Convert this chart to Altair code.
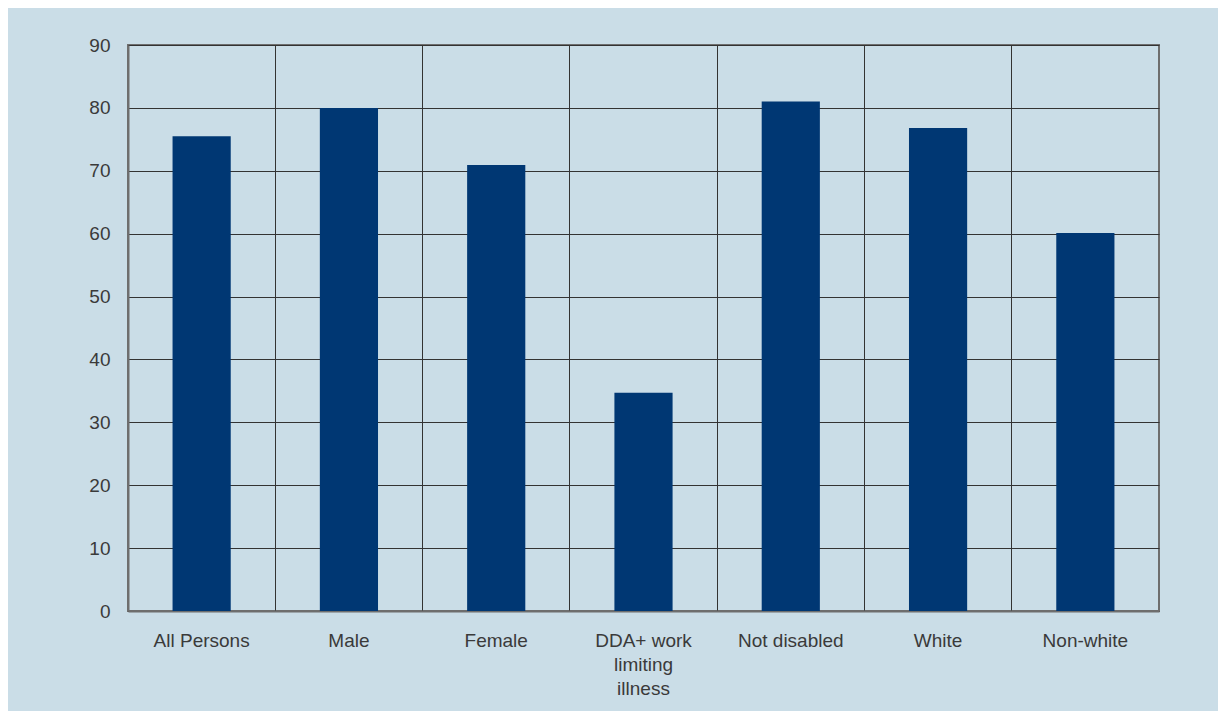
import altair as alt
import pandas as pd

categories = ["All Persons", "Male", "Female", "DDA+ work limiting illness",
              "Not disabled", "White", "Non-white"]
values = [75.5, 80.0, 70.9, 34.7, 81.0, 76.8, 60.1]

df = pd.DataFrame({"category": categories, "value": values})

label_expr = ("datum.value == 'DDA+ work limiting illness' ? "
              "['DDA+ work', 'limiting', 'illness'] : datum.value")

chart = alt.Chart(df).mark_bar(color="#003773", width={"band": 0.395}).encode(
    x=alt.X("category:N", sort=categories, title=None,
            scale=alt.Scale(paddingInner=0, paddingOuter=0),
            axis=alt.Axis(labelAngle=0, labelExpr=label_expr, ticks=False,
                          grid=True, gridColor="#333333", gridWidth=1,
                          bandPosition=0, labelPadding=20,
                          labelFontSize=19, labelColor="#3a3a3a",
                          labelFont="Liberation Sans", labelLineHeight=24,
                          domainColor="#6e6e6e", domainWidth=2)),
    y=alt.Y("value:Q", title=None,
            scale=alt.Scale(domain=[0, 90], nice=False),
            axis=alt.Axis(values=list(range(0, 91, 10)), ticks=False,
                          grid=True, gridColor="#333333", gridWidth=1,
                          labelPadding=18, labelFontSize=19,
                          labelColor="#3a3a3a", labelFont="Liberation Sans",
                          domainColor="#6e6e6e", domainWidth=2)),
).properties(
    width=1031, height=566,
    background="#cadde7",
    autosize=alt.AutoSizeParams(type="none"),
    padding={"left": 120, "top": 37, "right": 59, "bottom": 100},
).configure_view(stroke="#6e6e6e", strokeWidth=2)

chart.save("out.html", embed_options={"renderer": "svg", "actions": False})
